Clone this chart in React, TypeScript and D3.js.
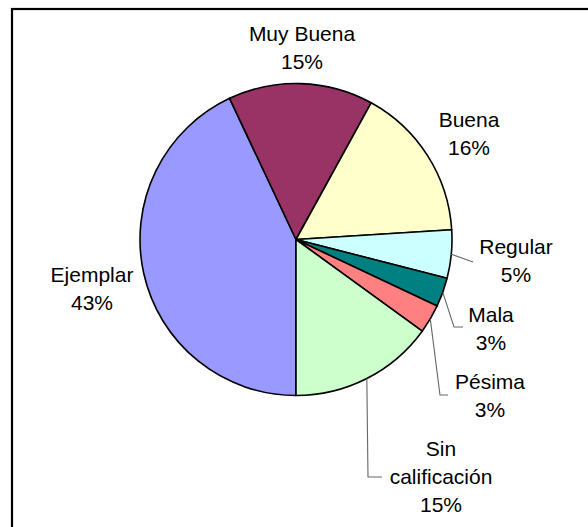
import React, { useEffect, useRef } from 'react';
import * as d3 from 'd3';

// slices in drawing order, clockwise starting at 6 o'clock
const categories = ['Ejemplar', 'Muy Buena', 'Buena', 'Regular', 'Mala', 'Pésima', 'Sin calificación'];
const percents = [43, 15, 16, 5, 3, 3, 15];
const colors = ['#9999FF', '#993366', '#FFFFCC', '#CCFFFF', '#008080', '#FF8080', '#CCFFCC'];

// label layout (text lines are split on spaces only for "Sin calificación")
const labelLayout: Record<string, { x: number; y: number; lines?: string[]; leader?: [number, number][] }> = {
  'Ejemplar': { x: 92, y: 282 },
  'Muy Buena': { x: 302, y: 41 },
  'Buena': { x: 469, y: 127 },
  'Regular': { x: 516, y: 254, leader: [[473, 262]] },
  'Mala': { x: 491, y: 322, leader: [[454, 327], [463, 327]] },
  'Pésima': { x: 490, y: 389, leader: [[440, 395], [448, 395]] },
  'Sin calificación': { x: 441, y: 456, lines: ['Sin', 'calificación'], leader: [[368, 477], [382, 477]] },
};

export default function App() {
  const ref = useRef<SVGSVGElement>(null);

  useEffect(() => {
    const width = 588;
    const height = 527;
    const cx = 296;
    const cy = 239.5;
    const r = 156;
    const lineH = 28;

    const svg = d3.select(ref.current);
    svg.selectAll('*').remove();
    svg.attr('width', width).attr('height', height);

    svg.append('rect')
      .attr('width', width).attr('height', height).attr('fill', '#fff');

    // chart frame (right/bottom edges run off the picture)
    svg.append('rect')
      .attr('x', 12).attr('y', 9)
      .attr('width', width + 20).attr('height', height + 20)
      .attr('fill', 'none').attr('stroke', '#000').attr('stroke-width', 2.2);

    const data = categories.map((c, i) => ({ name: c, value: percents[i], color: colors[i] }));

    const pie = d3.pie<any>()
      .value(d => d.value)
      .sort(null)
      .startAngle(Math.PI)
      .endAngle(3 * Math.PI);

    const arcs = pie(data);
    const arc = d3.arc<any>().innerRadius(0).outerRadius(r);
    const edge = d3.arc<any>().innerRadius(r).outerRadius(r);

    const g = svg.append('g').attr('transform', `translate(${cx},${cy})`);

    g.selectAll('path.slice')
      .data(arcs)
      .enter().append('path')
      .attr('class', 'slice')
      .attr('d', arc)
      .attr('fill', d => d.data.color)
      .attr('stroke', '#000')
      .attr('stroke-width', 1.6)
      .attr('stroke-linejoin', 'round');

    // leader lines
    arcs.forEach(a => {
      const lay = labelLayout[a.data.name];
      if (!lay.leader) return;
      const [ex, ey] = edge.centroid(a);
      const pts: [number, number][] = [[ex + cx, ey + cy], ...lay.leader];
      svg.append('path')
        .attr('d', d3.line()(pts))
        .attr('fill', 'none')
        .attr('stroke', '#666')
        .attr('stroke-width', 1.1);
    });

    // labels
    arcs.forEach(a => {
      const lay = labelLayout[a.data.name];
      const lines = [...(lay.lines || [a.data.name]), `${a.data.value}%`];
      const t = svg.append('text')
        .attr('text-anchor', 'middle')
        .attr('font-family', '"Liberation Sans", Arial, sans-serif')
        .attr('font-size', 21)
        .attr('fill', '#000');
      lines.forEach((s, i) => {
        t.append('tspan')
          .attr('x', lay.x)
          .attr('y', lay.y + i * lineH)
          .text(s);
      });
    });
  }, []);

  return (
    <div style={{ position: 'fixed', left: 0, top: 0 }}>
      <svg ref={ref} style={{ display: 'block' }} />
    </div>
  );
}
